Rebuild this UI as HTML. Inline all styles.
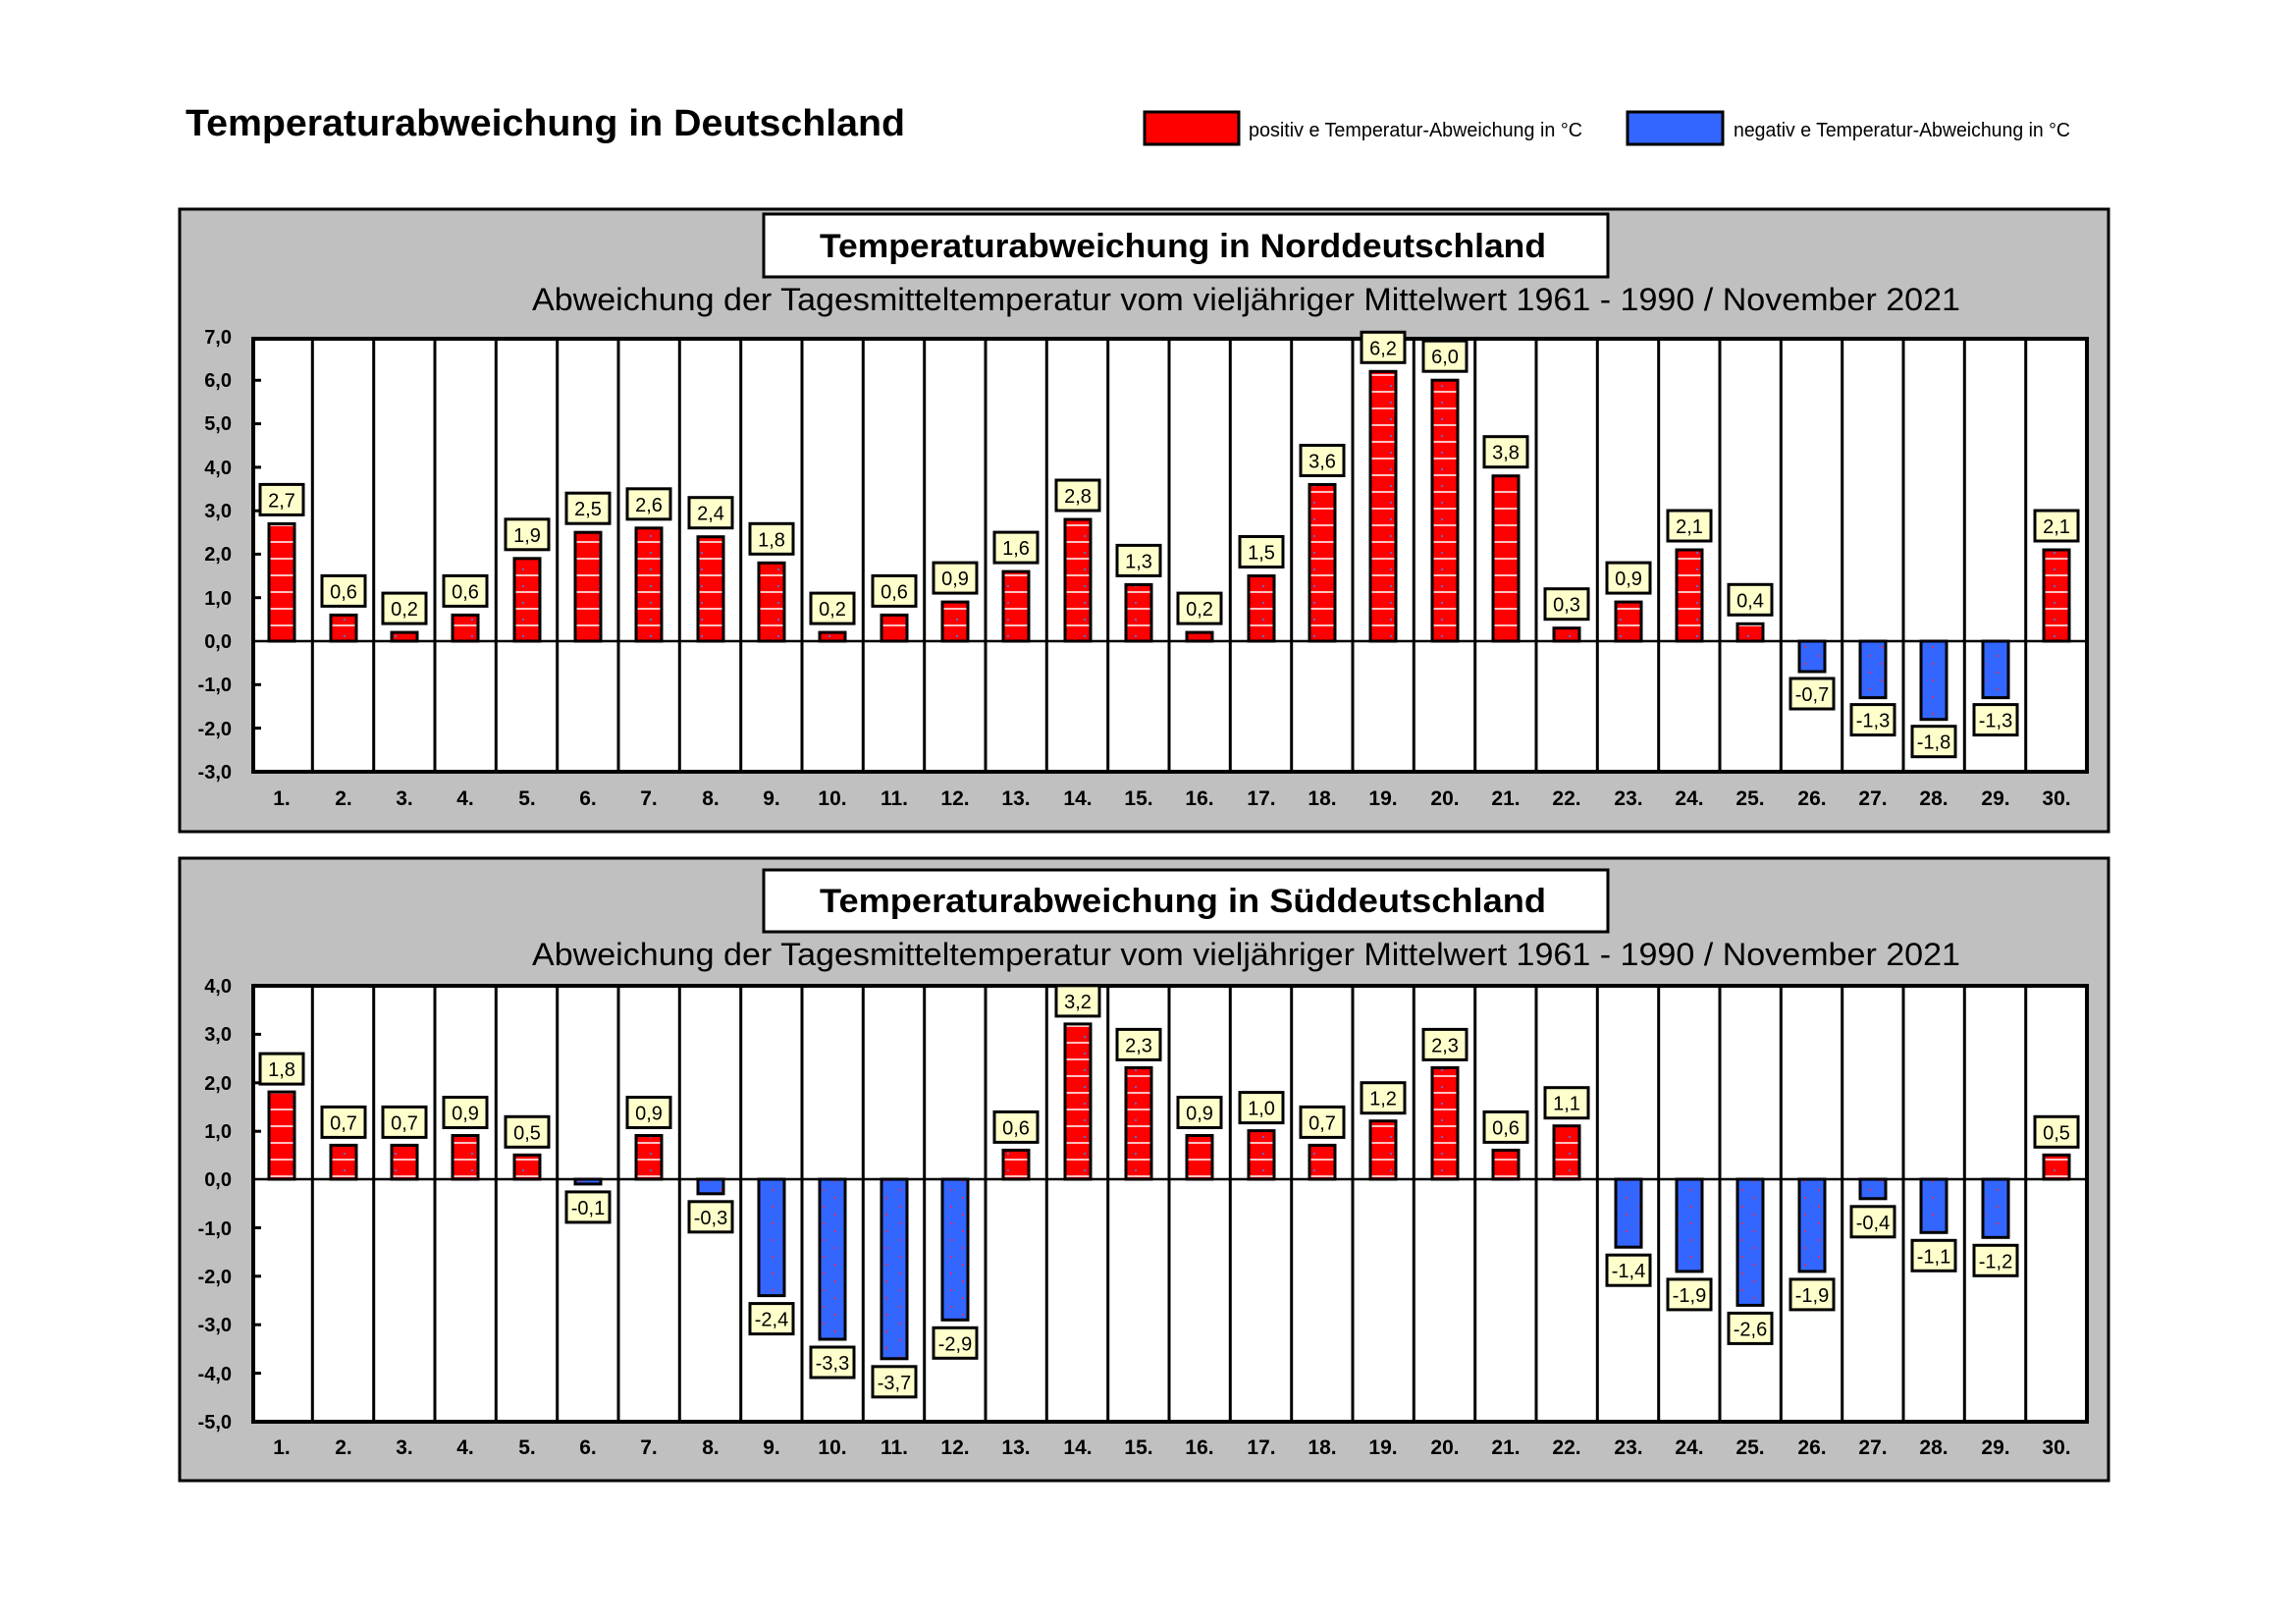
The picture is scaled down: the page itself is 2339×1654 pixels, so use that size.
<!DOCTYPE html>
<html><head><meta charset="utf-8"><style>html,body{margin:0;padding:0;background:#fff}svg{display:block}</style></head>
<body>
<svg width="2339" height="1654" viewBox="0 0 2339 1654" xmlns="http://www.w3.org/2000/svg" font-family="'Liberation Sans', Arial, sans-serif">
<defs>
<pattern id="pr" patternUnits="userSpaceOnUse" width="26" height="17"><rect width="26" height="17" fill="#ff0000"/><line x1="0" y1="8" x2="26" y2="8" stroke="#fff" stroke-width="1.5"/><rect x="12" y="1" width="2" height="2" fill="#6666cc"/></pattern>
<pattern id="pb" patternUnits="userSpaceOnUse" width="26" height="17"><rect width="26" height="17" fill="#3366ff"/><rect x="6" y="4" width="2" height="2" fill="#cc3366"/><rect x="18" y="12" width="2" height="2" fill="#cc3366"/></pattern>
</defs>
<text x="189" y="138" font-size="38" font-weight="bold" textLength="733" lengthAdjust="spacingAndGlyphs">Temperaturabweichung in Deutschland</text>
<rect x="1166" y="114" width="96" height="33" fill="#ff0000" stroke="#000" stroke-width="3"/>
<text x="1272" y="139" font-size="20" textLength="340" lengthAdjust="spacingAndGlyphs">positiv e Temperatur-Abweichung in °C</text>
<rect x="1658" y="114" width="97" height="33" fill="#3366ff" stroke="#000" stroke-width="3"/>
<text x="1766" y="139" font-size="20" textLength="343" lengthAdjust="spacingAndGlyphs">negativ e Temperatur-Abweichung in °C</text>

<!-- Panel 1 -->
<rect x="183" y="213" width="1965" height="634" fill="#c0c0c0" stroke="#000" stroke-width="3"/>
<rect x="778" y="218" width="860" height="64" fill="#fff" stroke="#000" stroke-width="3"/>
<text x="835" y="262" font-size="34" font-weight="bold" textLength="740" lengthAdjust="spacingAndGlyphs">Temperaturabweichung in Norddeutschland</text>
<text x="542" y="316" font-size="32" textLength="1455" lengthAdjust="spacingAndGlyphs">Abweichung  der  Tagesmitteltemperatur  vom  vieljähriger  Mittelwert  1961 - 1990   /   November  2021</text>
<rect x="258" y="345" width="1868" height="441" fill="#fff" stroke="#000" stroke-width="4"/>
<g stroke="#000" stroke-width="3">
<line x1="318.3" y1="345" x2="318.3" y2="786"/><line x1="380.7" y1="345" x2="380.7" y2="786"/><line x1="443" y1="345" x2="443" y2="786"/><line x1="505.3" y1="345" x2="505.3" y2="786"/><line x1="567.7" y1="345" x2="567.7" y2="786"/><line x1="630" y1="345" x2="630" y2="786"/><line x1="692.3" y1="345" x2="692.3" y2="786"/><line x1="754.7" y1="345" x2="754.7" y2="786"/><line x1="817" y1="345" x2="817" y2="786"/><line x1="879.3" y1="345" x2="879.3" y2="786"/><line x1="941.7" y1="345" x2="941.7" y2="786"/><line x1="1004" y1="345" x2="1004" y2="786"/><line x1="1066.3" y1="345" x2="1066.3" y2="786"/><line x1="1128.7" y1="345" x2="1128.7" y2="786"/><line x1="1191" y1="345" x2="1191" y2="786"/><line x1="1253.3" y1="345" x2="1253.3" y2="786"/><line x1="1315.7" y1="345" x2="1315.7" y2="786"/><line x1="1378" y1="345" x2="1378" y2="786"/><line x1="1440.3" y1="345" x2="1440.3" y2="786"/><line x1="1502.7" y1="345" x2="1502.7" y2="786"/><line x1="1565" y1="345" x2="1565" y2="786"/><line x1="1627.3" y1="345" x2="1627.3" y2="786"/><line x1="1689.7" y1="345" x2="1689.7" y2="786"/><line x1="1752" y1="345" x2="1752" y2="786"/><line x1="1814.3" y1="345" x2="1814.3" y2="786"/><line x1="1876.7" y1="345" x2="1876.7" y2="786"/><line x1="1939" y1="345" x2="1939" y2="786"/><line x1="2001.3" y1="345" x2="2001.3" y2="786"/><line x1="2063.7" y1="345" x2="2063.7" y2="786"/>
<line x1="258" y1="653" x2="2126" y2="653" stroke-width="2.5"/>
<line x1="258" y1="387.3" x2="266" y2="387.3"/><line x1="258" y1="431.6" x2="266" y2="431.6"/><line x1="258" y1="475.9" x2="266" y2="475.9"/><line x1="258" y1="520.2" x2="266" y2="520.2"/><line x1="258" y1="564.4" x2="266" y2="564.4"/><line x1="258" y1="608.7" x2="266" y2="608.7"/><line x1="258" y1="697.3" x2="266" y2="697.3"/><line x1="258" y1="741.6" x2="266" y2="741.6"/>
</g>
<g font-size="20" font-weight="bold" text-anchor="end">
<text x="236" y="350">7,0</text><text x="236" y="394">6,0</text><text x="236" y="438">5,0</text><text x="236" y="483">4,0</text><text x="236" y="527">3,0</text><text x="236" y="571">2,0</text><text x="236" y="616">1,0</text><text x="236" y="660">0,0</text><text x="236" y="704">-1,0</text><text x="236" y="749">-2,0</text><text x="236" y="793">-3,0</text>
</g>
<g font-size="21" font-weight="bold" text-anchor="middle">
<text x="287" y="820">1.</text><text x="350" y="820">2.</text><text x="412" y="820">3.</text><text x="474" y="820">4.</text><text x="537" y="820">5.</text><text x="599" y="820">6.</text><text x="661" y="820">7.</text><text x="724" y="820">8.</text><text x="786" y="820">9.</text><text x="848" y="820">10.</text><text x="911" y="820">11.</text><text x="973" y="820">12.</text><text x="1035" y="820">13.</text><text x="1098" y="820">14.</text><text x="1160" y="820">15.</text><text x="1222" y="820">16.</text><text x="1285" y="820">17.</text><text x="1347" y="820">18.</text><text x="1409" y="820">19.</text><text x="1472" y="820">20.</text><text x="1534" y="820">21.</text><text x="1596" y="820">22.</text><text x="1659" y="820">23.</text><text x="1721" y="820">24.</text><text x="1783" y="820">25.</text><text x="1846" y="820">26.</text><text x="1908" y="820">27.</text><text x="1970" y="820">28.</text><text x="2033" y="820">29.</text><text x="2095" y="820">30.</text>
</g>
<g stroke="#000" stroke-width="3">
<rect x="274" y="533.4" width="26" height="119.6" fill="url(#pr)"/>
<rect x="337" y="626.4" width="26" height="26.6" fill="url(#pr)"/>
<rect x="399" y="644.1" width="26" height="8.9" fill="url(#pr)"/>
<rect x="461" y="626.4" width="26" height="26.6" fill="url(#pr)"/>
<rect x="524" y="568.8" width="26" height="84.2" fill="url(#pr)"/>
<rect x="586" y="542.2" width="26" height="110.8" fill="url(#pr)"/>
<rect x="648" y="537.8" width="26" height="115.2" fill="url(#pr)"/>
<rect x="711" y="546.7" width="26" height="106.3" fill="url(#pr)"/>
<rect x="773" y="573.3" width="26" height="79.7" fill="url(#pr)"/>
<rect x="835" y="644.1" width="26" height="8.9" fill="url(#pr)"/>
<rect x="898" y="626.4" width="26" height="26.6" fill="url(#pr)"/>
<rect x="960" y="613.1" width="26" height="39.9" fill="url(#pr)"/>
<rect x="1022" y="582.1" width="26" height="70.9" fill="url(#pr)"/>
<rect x="1085" y="529" width="26" height="124" fill="url(#pr)"/>
<rect x="1147" y="595.4" width="26" height="57.6" fill="url(#pr)"/>
<rect x="1209" y="644.1" width="26" height="8.9" fill="url(#pr)"/>
<rect x="1272" y="586.5" width="26" height="66.5" fill="url(#pr)"/>
<rect x="1334" y="493.5" width="26" height="159.5" fill="url(#pr)"/>
<rect x="1396" y="378.3" width="26" height="274.7" fill="url(#pr)"/>
<rect x="1459" y="387.2" width="26" height="265.8" fill="url(#pr)"/>
<rect x="1521" y="484.7" width="26" height="168.3" fill="url(#pr)"/>
<rect x="1583" y="639.7" width="26" height="13.3" fill="url(#pr)"/>
<rect x="1646" y="613.1" width="26" height="39.9" fill="url(#pr)"/>
<rect x="1708" y="560" width="26" height="93" fill="url(#pr)"/>
<rect x="1770" y="635.3" width="26" height="17.7" fill="url(#pr)"/>
<rect x="1833" y="653" width="26" height="31" fill="url(#pb)"/>
<rect x="1895" y="653" width="26" height="57.6" fill="url(#pb)"/>
<rect x="1957" y="653" width="26" height="79.7" fill="url(#pb)"/>
<rect x="2020" y="653" width="26" height="57.6" fill="url(#pb)"/>
<rect x="2082" y="560" width="26" height="93" fill="url(#pr)"/>
</g>
<g stroke="#000" stroke-width="3" fill="#ffffcc">
<rect x="265" y="493.4" width="44" height="31"/><rect x="328" y="586.4" width="44" height="31"/><rect x="390" y="604.1" width="44" height="31"/><rect x="452" y="586.4" width="44" height="31"/><rect x="515" y="528.8" width="44" height="31"/><rect x="577" y="502.2" width="44" height="31"/><rect x="639" y="497.8" width="44" height="31"/><rect x="702" y="506.7" width="44" height="31"/><rect x="764" y="533.3" width="44" height="31"/><rect x="826" y="604.1" width="44" height="31"/><rect x="889" y="586.4" width="44" height="31"/><rect x="951" y="573.1" width="44" height="31"/><rect x="1013" y="542.1" width="44" height="31"/><rect x="1076" y="489" width="44" height="31"/><rect x="1138" y="555.4" width="44" height="31"/><rect x="1200" y="604.1" width="44" height="31"/><rect x="1263" y="546.5" width="44" height="31"/><rect x="1325" y="453.5" width="44" height="31"/><rect x="1387" y="338.3" width="44" height="31"/><rect x="1450" y="347.2" width="44" height="31"/><rect x="1512" y="444.7" width="44" height="31"/><rect x="1574" y="599.7" width="44" height="31"/><rect x="1637" y="573.1" width="44" height="31"/><rect x="1699" y="520" width="44" height="31"/><rect x="1761" y="595.3" width="44" height="31"/><rect x="1824" y="691" width="44" height="31"/><rect x="1886" y="717.6" width="44" height="31"/><rect x="1948" y="739.7" width="44" height="31"/><rect x="2011" y="717.6" width="44" height="31"/><rect x="2073" y="520" width="44" height="31"/>
</g>
<g font-size="20" text-anchor="middle">
<text x="287" y="516.4">2,7</text><text x="350" y="609.4">0,6</text><text x="412" y="627.1">0,2</text><text x="474" y="609.4">0,6</text><text x="537" y="551.8">1,9</text><text x="599" y="525.2">2,5</text><text x="661" y="520.8">2,6</text><text x="724" y="529.7">2,4</text><text x="786" y="556.3">1,8</text><text x="848" y="627.1">0,2</text><text x="911" y="609.4">0,6</text><text x="973" y="596.1">0,9</text><text x="1035" y="565.1">1,6</text><text x="1098" y="512">2,8</text><text x="1160" y="578.4">1,3</text><text x="1222" y="627.1">0,2</text><text x="1285" y="569.5">1,5</text><text x="1347" y="476.5">3,6</text><text x="1409" y="361.3">6,2</text><text x="1472" y="370.2">6,0</text><text x="1534" y="467.7">3,8</text><text x="1596" y="622.7">0,3</text><text x="1659" y="596.1">0,9</text><text x="1721" y="543">2,1</text><text x="1783" y="618.3">0,4</text><text x="1846" y="714">-0,7</text><text x="1908" y="740.6">-1,3</text><text x="1970" y="762.7">-1,8</text><text x="2033" y="740.6">-1,3</text><text x="2095" y="543">2,1</text>
</g>

<!-- Panel 2 -->
<rect x="183" y="874" width="1965" height="634" fill="#c0c0c0" stroke="#000" stroke-width="3"/>
<rect x="778" y="886" width="860" height="63" fill="#fff" stroke="#000" stroke-width="3"/>
<text x="835" y="929" font-size="34" font-weight="bold" textLength="740" lengthAdjust="spacingAndGlyphs">Temperaturabweichung in Süddeutschland</text>
<text x="542" y="983" font-size="32" textLength="1455" lengthAdjust="spacingAndGlyphs">Abweichung  der  Tagesmitteltemperatur  vom  vieljähriger  Mittelwert  1961 - 1990   /   November  2021</text>
<rect x="258" y="1004" width="1868" height="444" fill="#fff" stroke="#000" stroke-width="4"/>
<g stroke="#000" stroke-width="3">
<line x1="318.3" y1="1004" x2="318.3" y2="1448"/><line x1="380.7" y1="1004" x2="380.7" y2="1448"/><line x1="443" y1="1004" x2="443" y2="1448"/><line x1="505.3" y1="1004" x2="505.3" y2="1448"/><line x1="567.7" y1="1004" x2="567.7" y2="1448"/><line x1="630" y1="1004" x2="630" y2="1448"/><line x1="692.3" y1="1004" x2="692.3" y2="1448"/><line x1="754.7" y1="1004" x2="754.7" y2="1448"/><line x1="817" y1="1004" x2="817" y2="1448"/><line x1="879.3" y1="1004" x2="879.3" y2="1448"/><line x1="941.7" y1="1004" x2="941.7" y2="1448"/><line x1="1004" y1="1004" x2="1004" y2="1448"/><line x1="1066.3" y1="1004" x2="1066.3" y2="1448"/><line x1="1128.7" y1="1004" x2="1128.7" y2="1448"/><line x1="1191" y1="1004" x2="1191" y2="1448"/><line x1="1253.3" y1="1004" x2="1253.3" y2="1448"/><line x1="1315.7" y1="1004" x2="1315.7" y2="1448"/><line x1="1378" y1="1004" x2="1378" y2="1448"/><line x1="1440.3" y1="1004" x2="1440.3" y2="1448"/><line x1="1502.7" y1="1004" x2="1502.7" y2="1448"/><line x1="1565" y1="1004" x2="1565" y2="1448"/><line x1="1627.3" y1="1004" x2="1627.3" y2="1448"/><line x1="1689.7" y1="1004" x2="1689.7" y2="1448"/><line x1="1752" y1="1004" x2="1752" y2="1448"/><line x1="1814.3" y1="1004" x2="1814.3" y2="1448"/><line x1="1876.7" y1="1004" x2="1876.7" y2="1448"/><line x1="1939" y1="1004" x2="1939" y2="1448"/><line x1="2001.3" y1="1004" x2="2001.3" y2="1448"/><line x1="2063.7" y1="1004" x2="2063.7" y2="1448"/>
<line x1="258" y1="1201" x2="2126" y2="1201" stroke-width="2.5"/>
<line x1="258" y1="1053.4" x2="266" y2="1053.4"/><line x1="258" y1="1102.8" x2="266" y2="1102.8"/><line x1="258" y1="1152.2" x2="266" y2="1152.2"/><line x1="258" y1="1250.4" x2="266" y2="1250.4"/><line x1="258" y1="1299.8" x2="266" y2="1299.8"/><line x1="258" y1="1349.2" x2="266" y2="1349.2"/><line x1="258" y1="1398.6" x2="266" y2="1398.6"/>
</g>
<g font-size="20" font-weight="bold" text-anchor="end">
<text x="236" y="1011">4,0</text><text x="236" y="1060">3,0</text><text x="236" y="1110">2,0</text><text x="236" y="1159">1,0</text><text x="236" y="1208">0,0</text><text x="236" y="1258">-1,0</text><text x="236" y="1307">-2,0</text><text x="236" y="1356">-3,0</text><text x="236" y="1406">-4,0</text><text x="236" y="1455">-5,0</text>
</g>
<g font-size="21" font-weight="bold" text-anchor="middle">
<text x="287" y="1481">1.</text><text x="350" y="1481">2.</text><text x="412" y="1481">3.</text><text x="474" y="1481">4.</text><text x="537" y="1481">5.</text><text x="599" y="1481">6.</text><text x="661" y="1481">7.</text><text x="724" y="1481">8.</text><text x="786" y="1481">9.</text><text x="848" y="1481">10.</text><text x="911" y="1481">11.</text><text x="973" y="1481">12.</text><text x="1035" y="1481">13.</text><text x="1098" y="1481">14.</text><text x="1160" y="1481">15.</text><text x="1222" y="1481">16.</text><text x="1285" y="1481">17.</text><text x="1347" y="1481">18.</text><text x="1409" y="1481">19.</text><text x="1472" y="1481">20.</text><text x="1534" y="1481">21.</text><text x="1596" y="1481">22.</text><text x="1659" y="1481">23.</text><text x="1721" y="1481">24.</text><text x="1783" y="1481">25.</text><text x="1846" y="1481">26.</text><text x="1908" y="1481">27.</text><text x="1970" y="1481">28.</text><text x="2033" y="1481">29.</text><text x="2095" y="1481">30.</text>
</g>
<g stroke="#000" stroke-width="3">
<rect x="274" y="1112.1" width="26" height="88.9" fill="url(#pr)"/>
<rect x="337" y="1166.4" width="26" height="34.6" fill="url(#pr)"/>
<rect x="399" y="1166.4" width="26" height="34.6" fill="url(#pr)"/>
<rect x="461" y="1156.5" width="26" height="44.5" fill="url(#pr)"/>
<rect x="524" y="1176.3" width="26" height="24.7" fill="url(#pr)"/>
<rect x="586" y="1201" width="26" height="4.9" fill="url(#pb)"/>
<rect x="648" y="1156.5" width="26" height="44.5" fill="url(#pr)"/>
<rect x="711" y="1201" width="26" height="14.8" fill="url(#pb)"/>
<rect x="773" y="1201" width="26" height="118.6" fill="url(#pb)"/>
<rect x="835" y="1201" width="26" height="163" fill="url(#pb)"/>
<rect x="898" y="1201" width="26" height="182.8" fill="url(#pb)"/>
<rect x="960" y="1201" width="26" height="143.3" fill="url(#pb)"/>
<rect x="1022" y="1171.4" width="26" height="29.6" fill="url(#pr)"/>
<rect x="1085" y="1042.9" width="26" height="158.1" fill="url(#pr)"/>
<rect x="1147" y="1087.4" width="26" height="113.6" fill="url(#pr)"/>
<rect x="1209" y="1156.5" width="26" height="44.5" fill="url(#pr)"/>
<rect x="1272" y="1151.6" width="26" height="49.4" fill="url(#pr)"/>
<rect x="1334" y="1166.4" width="26" height="34.6" fill="url(#pr)"/>
<rect x="1396" y="1141.7" width="26" height="59.3" fill="url(#pr)"/>
<rect x="1459" y="1087.4" width="26" height="113.6" fill="url(#pr)"/>
<rect x="1521" y="1171.4" width="26" height="29.6" fill="url(#pr)"/>
<rect x="1583" y="1146.7" width="26" height="54.3" fill="url(#pr)"/>
<rect x="1646" y="1201" width="26" height="69.2" fill="url(#pb)"/>
<rect x="1708" y="1201" width="26" height="93.9" fill="url(#pb)"/>
<rect x="1770" y="1201" width="26" height="128.4" fill="url(#pb)"/>
<rect x="1833" y="1201" width="26" height="93.9" fill="url(#pb)"/>
<rect x="1895" y="1201" width="26" height="19.8" fill="url(#pb)"/>
<rect x="1957" y="1201" width="26" height="54.3" fill="url(#pb)"/>
<rect x="2020" y="1201" width="26" height="59.3" fill="url(#pb)"/>
<rect x="2082" y="1176.3" width="26" height="24.7" fill="url(#pr)"/>
</g>
<g stroke="#000" stroke-width="3" fill="#ffffcc">
<rect x="265" y="1073.1" width="44" height="31"/><rect x="328" y="1127.4" width="44" height="31"/><rect x="390" y="1127.4" width="44" height="31"/><rect x="452" y="1117.5" width="44" height="31"/><rect x="515" y="1137.3" width="44" height="31"/><rect x="577" y="1213.9" width="44" height="31"/><rect x="639" y="1117.5" width="44" height="31"/><rect x="702" y="1223.8" width="44" height="31"/><rect x="764" y="1327.6" width="44" height="31"/><rect x="826" y="1372" width="44" height="31"/><rect x="889" y="1391.8" width="44" height="31"/><rect x="951" y="1352.3" width="44" height="31"/><rect x="1013" y="1132.4" width="44" height="31"/><rect x="1076" y="1003.9" width="44" height="31"/><rect x="1138" y="1048.4" width="44" height="31"/><rect x="1200" y="1117.5" width="44" height="31"/><rect x="1263" y="1112.6" width="44" height="31"/><rect x="1325" y="1127.4" width="44" height="31"/><rect x="1387" y="1102.7" width="44" height="31"/><rect x="1450" y="1048.4" width="44" height="31"/><rect x="1512" y="1132.4" width="44" height="31"/><rect x="1574" y="1107.7" width="44" height="31"/><rect x="1637" y="1278.2" width="44" height="31"/><rect x="1699" y="1302.9" width="44" height="31"/><rect x="1761" y="1337.4" width="44" height="31"/><rect x="1824" y="1302.9" width="44" height="31"/><rect x="1886" y="1228.8" width="44" height="31"/><rect x="1948" y="1263.3" width="44" height="31"/><rect x="2011" y="1268.3" width="44" height="31"/><rect x="2073" y="1137.3" width="44" height="31"/>
</g>
<g font-size="20" text-anchor="middle">
<text x="287" y="1096.1">1,8</text><text x="350" y="1150.4">0,7</text><text x="412" y="1150.4">0,7</text><text x="474" y="1140.5">0,9</text><text x="537" y="1160.3">0,5</text><text x="599" y="1236.9">-0,1</text><text x="661" y="1140.5">0,9</text><text x="724" y="1246.8">-0,3</text><text x="786" y="1350.6">-2,4</text><text x="848" y="1395">-3,3</text><text x="911" y="1414.8">-3,7</text><text x="973" y="1375.3">-2,9</text><text x="1035" y="1155.4">0,6</text><text x="1098" y="1026.9">3,2</text><text x="1160" y="1071.4">2,3</text><text x="1222" y="1140.5">0,9</text><text x="1285" y="1135.6">1,0</text><text x="1347" y="1150.4">0,7</text><text x="1409" y="1125.7">1,2</text><text x="1472" y="1071.4">2,3</text><text x="1534" y="1155.4">0,6</text><text x="1596" y="1130.7">1,1</text><text x="1659" y="1301.2">-1,4</text><text x="1721" y="1325.9">-1,9</text><text x="1783" y="1360.4">-2,6</text><text x="1846" y="1325.9">-1,9</text><text x="1908" y="1251.8">-0,4</text><text x="1970" y="1286.3">-1,1</text><text x="2033" y="1291.3">-1,2</text><text x="2095" y="1160.3">0,5</text>
</g>
</svg>
</body></html>
